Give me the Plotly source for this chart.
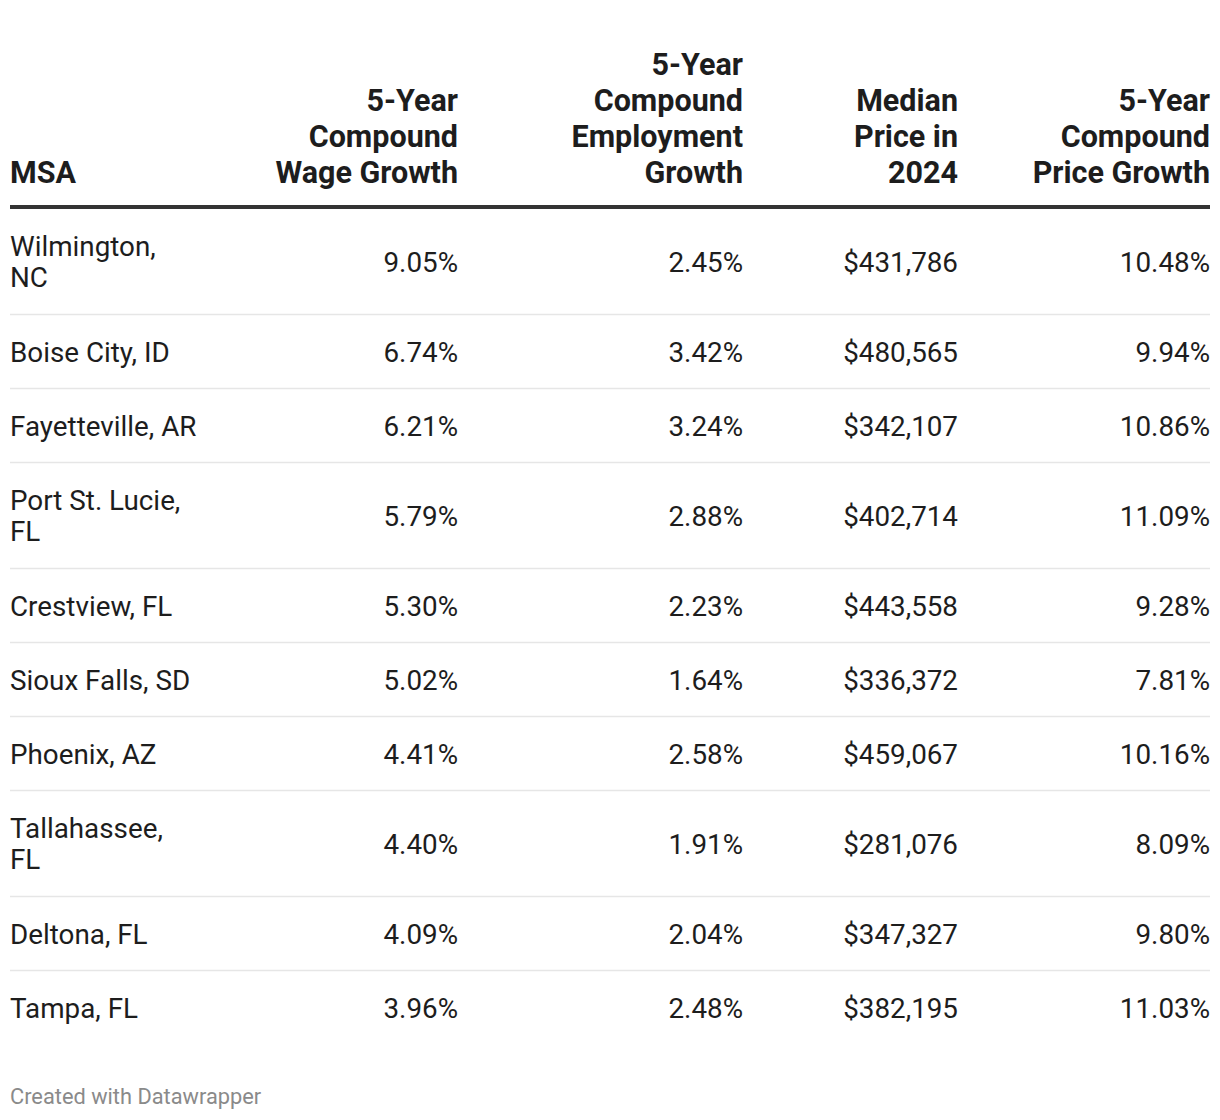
import plotly.graph_objects as go

# ---------------- data ----------------
msa = ["Wilmington,<br>NC", "Boise City, ID", "Fayetteville, AR", "Port St. Lucie,<br>FL",
       "Crestview, FL", "Sioux Falls, SD", "Phoenix, AZ", "Tallahassee,<br>FL",
       "Deltona, FL", "Tampa, FL"]
wage_growth = [9.05, 6.74, 6.21, 5.79, 5.30, 5.02, 4.41, 4.40, 4.09, 3.96]
employment_growth = [2.45, 3.42, 3.24, 2.88, 2.23, 1.64, 2.58, 1.91, 2.04, 2.48]
median_price = [431786, 480565, 342107, 402714, 443558, 336372, 459067, 281076, 347327, 382195]
price_growth = [10.48, 9.94, 10.86, 11.09, 9.28, 7.81, 10.16, 8.09, 9.80, 11.03]
headers = ["MSA", "5-Year<br>Compound<br>Wage Growth",
           "5-Year<br>Compound<br>Employment<br>Growth",
           "Median<br>Price in<br>2024", "5-Year<br>Compound<br>Price Growth"]
footer = "Created with Datawrapper"

# ---------------- style / geometry ----------------
W, H = 1220, 1120
FONT = "Roboto, 'Open Sans', sans-serif"
BODY_FS = 27.8
HEAD_FS = 30.5
FOOT_FS = 21.8
TXT = "#1d1d1d"
LEFT, RIGHT = 10, 1210
col_right = [458, 743, 958, 1210]
head_line_y = 207
table_top = 209
single_h = 74
extra_line_h = 32
body_line_gap = 31
head_line_gap = 36
head_baseline = 182.5
baseline_off = 10   # baseline below row centre for single line

def fmt_pct(v):
    return f"{v:.2f}%"

def fmt_money(v):
    return f"${v:,.0f}"

columns = [
    [fmt_pct(v) for v in wage_growth],
    [fmt_pct(v) for v in employment_growth],
    [fmt_money(v) for v in median_price],
    [fmt_pct(v) for v in price_growth],
]

# row layout
row_lines = [len(s.split("<br>")) for s in msa]
row_tops, row_centers = [], []
y = table_top
for n in row_lines:
    h = single_h + extra_line_h * (n - 1)
    row_tops.append(y)
    row_centers.append(y + h / 2)
    y += h

fig = go.Figure()

# MSA column: each wrapped line placed separately
mx, my, mt = [], [], []
for label, c in zip(msa, row_centers):
    parts = label.split("<br>")
    n = len(parts)
    for i, p in enumerate(parts):
        base = c + baseline_off + (i - (n - 1) / 2) * body_line_gap
        mx.append(LEFT)
        my.append(base - 0.25 * BODY_FS)
        mt.append(p)
fig.add_trace(go.Scatter(x=mx, y=my, text=mt, mode="text", textposition="middle right",
                         textfont=dict(family=FONT, size=BODY_FS, color=TXT),
                         hoverinfo="skip", showlegend=False))

for xr, vals in zip(col_right, columns):
    fig.add_trace(go.Scatter(
        x=[xr] * len(vals),
        y=[c + baseline_off - 0.25 * BODY_FS for c in row_centers],
        text=vals, mode="text", textposition="middle left",
        textfont=dict(family=FONT, size=BODY_FS, color=TXT),
        hoverinfo="skip", showlegend=False))

# headers (bottom aligned, one entry per wrapped line)
hx = [LEFT] + col_right
for i, (x, h) in enumerate(zip(hx, headers)):
    parts = h.split("<br>")
    n = len(parts)
    ys = [head_baseline - (n - 1 - k) * head_line_gap - 0.25 * HEAD_FS for k in range(n)]
    fig.add_trace(go.Scatter(
        x=[x] * n, y=ys, text=[f"<b>{p}</b>" for p in parts], mode="text",
        textposition="middle right" if i == 0 else "middle left",
        textfont=dict(family=FONT, size=HEAD_FS, color=TXT),
        hoverinfo="skip", showlegend=False))

# footer
fig.add_trace(go.Scatter(x=[LEFT], y=[1104 - 0.25 * FOOT_FS], text=[footer], mode="text",
                         textposition="middle right",
                         textfont=dict(family=FONT, size=FOOT_FS, color="#8a8a8a"),
                         hoverinfo="skip", showlegend=False))

# rules
shapes = [dict(type="line", xref="x", yref="y", x0=LEFT, x1=RIGHT, y0=head_line_y, y1=head_line_y,
               line=dict(color="#333333", width=4))]
for t in row_tops[1:]:
    shapes.append(dict(type="line", xref="x", yref="y", x0=LEFT, x1=RIGHT, y0=t - 0.5, y1=t - 0.5,
                       line=dict(color="#e6e6e6", width=1.5), layer="below"))

fig.update_layout(
    width=W, height=H, margin=dict(l=0, r=0, t=0, b=0),
    paper_bgcolor="white", plot_bgcolor="white",
    xaxis=dict(range=[0, W], visible=False, fixedrange=True),
    yaxis=dict(range=[H, 0], visible=False, fixedrange=True),
    shapes=shapes, showlegend=False,
)

fig.write_html("out.html", config={"displayModeBar": False},
               post_script="document.body.style.margin='0';document.body.style.overflow='hidden';")
